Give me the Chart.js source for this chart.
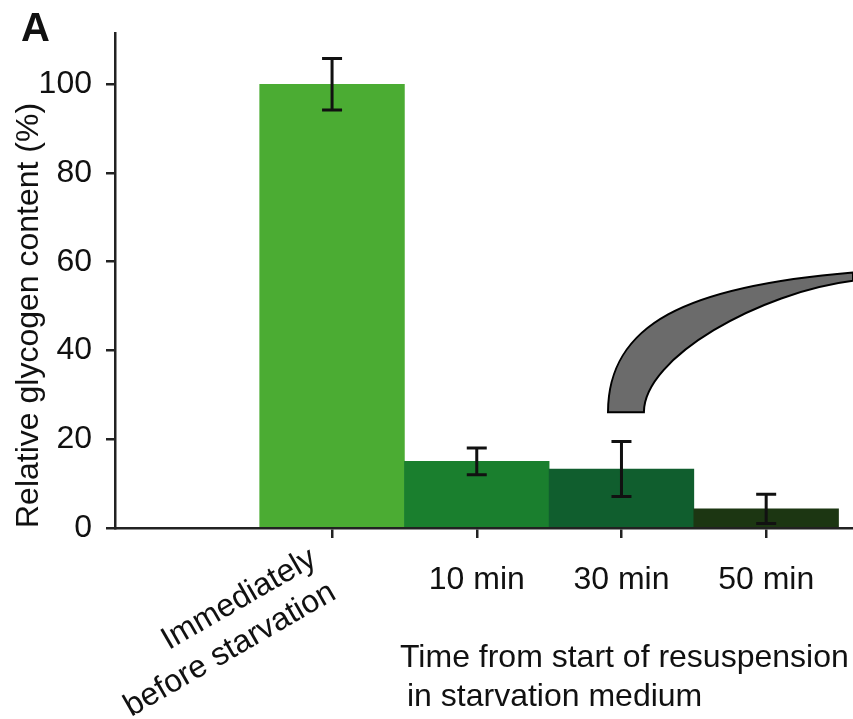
<!DOCTYPE html>
<html>
<head>
<meta charset="utf-8">
<title>Relative glycogen content</title>
<script src="https://cdn.jsdelivr.net/npm/chart.js@4.4.1/dist/chart.umd.min.js"></script>
<style>
  html, body { margin: 0; padding: 0; background: #ffffff; }
  #wrap { width: 853px; height: 719px; }
</style>
</head>
<body>
<div id="wrap"><canvas id="chart" width="853" height="719"></canvas></div>
<script>
// Sampling points (first one rotated in two lines)
const categories = ['Immediately\nbefore starvation', '10 min', '30 min', '50 min'];
// Mean relative glycogen content (%) and its error (±)
const glycogen = [100, 15, 13.3, 4.3];
const glycogenErr = [5.8, 3.0, 6.2, 3.3];
const barColors = ['#4bac33', '#1a7f2e', '#105e2e', '#1c3612'];
const yTicks = [0, 20, 40, 60, 80, 100];

const panelLetter = 'A';
const yTitle = 'Relative glycogen content (%)';
const xTitle = ['Time from start of resuspension', 'in starvation medium'];

const FONT = '"Liberation Sans", Arial, Helvetica, sans-serif';
const FS = 32;
const INK = '#111111';
const AXIS = '#222222';

const points = glycogen.map((v, i) => ({ x: i + 1, y: v }));

// Mean ± error whiskers on every bar
const errorBars = {
  id: 'errorBars',
  afterDatasetsDraw(chart) {
    const { ctx } = chart;
    const y = chart.scales.y;
    const meta = chart.getDatasetMeta(0);
    ctx.save();
    ctx.strokeStyle = INK;
    ctx.lineWidth = 3;
    meta.data.forEach((bar, i) => {
      const top = y.getPixelForValue(glycogen[i] + glycogenErr[i]);
      const bot = y.getPixelForValue(glycogen[i] - glycogenErr[i]);
      const x = bar.x;
      ctx.beginPath();
      ctx.moveTo(x, top); ctx.lineTo(x, bot);
      ctx.moveTo(x - 10, top); ctx.lineTo(x + 10, top);
      ctx.moveTo(x - 10, bot); ctx.lineTo(x + 10, bot);
      ctx.stroke();
    });
    ctx.restore();
  }
};

// Panel letter, rotated first category label, x-axis caption and curved pointer
const decorations = {
  id: 'decorations',
  afterDraw(chart) {
    const { ctx, chartArea } = chart;
    const xs = chart.scales.x;
    const ys = chart.scales.y;
    const px = v => xs.getPixelForValue(v);
    const py = v => ys.getPixelForValue(v);
    ctx.save();

    // panel letter
    ctx.fillStyle = INK;
    ctx.font = 'bold 40px ' + FONT;
    ctx.textAlign = 'left';
    ctx.textBaseline = 'alphabetic';
    ctx.fillText(panelLetter, 21, 41);

    // rotated label under the first bar
    const lines = categories[0].split('\n');
    ctx.font = FS + 'px ' + FONT;
    ctx.save();
    ctx.translate(px(1) - 14, chartArea.bottom + 36);
    ctx.rotate(-Math.PI / 6);
    ctx.textAlign = 'right';
    lines.forEach((ln, k) => ctx.fillText(ln, 0, k * 39));
    ctx.restore();

    // x-axis caption, left aligned
    ctx.textAlign = 'left';
    ctx.textBaseline = 'middle';
    ctx.fillText(xTitle[0], chartArea.left + 285, chartArea.bottom + 130);
    ctx.fillText(xTitle[1], chartArea.left + 292, chartArea.bottom + 169);

    // curved pointer rising from above the 30 min bar
    const baseY = py(26.1);
    ctx.beginPath();
    ctx.moveTo(px(2.907), baseY);
    ctx.bezierCurveTo(px(2.907), py(46), px(3.45), py(54.5), chartArea.right, py(57.6));
    ctx.lineTo(chartArea.right, py(55.7));
    ctx.bezierCurveTo(px(3.96), py(53.1), px(3.155), py(38.5), px(3.155), baseY);
    ctx.closePath();
    ctx.fillStyle = '#6b6b6b';
    ctx.fill();
    ctx.strokeStyle = '#000000';
    ctx.lineWidth = 2;
    ctx.stroke();

    ctx.restore();
  }
};

new Chart(document.getElementById('chart').getContext('2d'), {
  type: 'bar',
  data: {
    datasets: [{
      data: points,
      backgroundColor: barColors,
      borderWidth: 0,
      barPercentage: 1,
      categoryPercentage: 1
    }]
  },
  options: {
    responsive: false,
    animation: false,
    layout: { padding: { top: 32, left: 0, right: 0, bottom: 0 } },
    plugins: { legend: { display: false }, tooltip: { enabled: false } },
    scales: {
      x: {
        type: 'linear',
        min: -0.5,
        max: 4.6,
        offset: false,
        afterBuildTicks: s => { s.ticks = categories.map((c, i) => ({ value: i + 1 })); },
        afterFit: s => { s.height = 191; },
        grid: { display: true, offset: false, drawOnChartArea: false, drawTicks: true, tickLength: 10, color: AXIS, lineWidth: 2.5 },
        border: { display: true, color: AXIS, width: 2.5 },
        ticks: {
          padding: 23,
          autoSkip: false,
          maxRotation: 0,
          minRotation: 0,
          color: INK,
          font: { family: FONT, size: FS },
          callback: (v, i) => (i === 0 ? '' : categories[i])
        }
      },
      y: {
        min: 0,
        max: 111.5,
        afterBuildTicks: s => { s.ticks = yTicks.map(v => ({ value: v })); },
        afterFit: s => { s.width = 115; },
        grid: { drawOnChartArea: false, drawTicks: true, tickLength: 9, color: AXIS, lineWidth: 2.5 },
        border: { display: true, color: AXIS, width: 2.5 },
        ticks: { padding: 14, color: INK, font: { family: FONT, size: FS } },
        title: {
          display: true,
          text: yTitle,
          align: 'start',
          padding: { top: 10, bottom: 0 },
          color: INK,
          font: { family: FONT, size: FS }
        }
      }
    }
  },
  plugins: [errorBars, decorations]
});
</script>
</body>
</html>
